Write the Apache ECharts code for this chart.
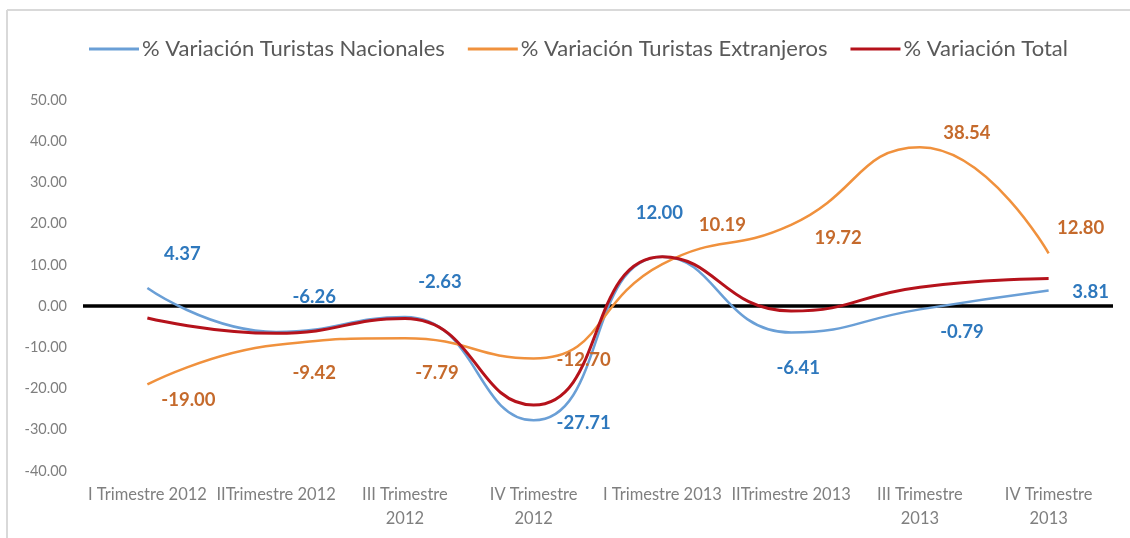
<!DOCTYPE html>
<html lang="es">
<head>
  <meta charset="UTF-8">
  <title>Variación Turistas</title>
  <script src="https://cdn.jsdelivr.net/npm/echarts@6/dist/echarts.min.js"></script>
  <style>
    html, body { margin: 0; padding: 0; background: #fff; }
  </style>
</head>
<body>
  <div id="main" style="width: 1130px;height:538px;"></div>

  <script type="text/javascript">
    // categories and values
    const categories = [
      'I Trimestre 2012', 'IITrimestre 2012', 'III Trimestre\n2012', 'IV Trimestre\n2012',
      'I Trimestre 2013', 'IITrimestre 2013', 'III Trimestre\n2013', 'IV Trimestre\n2013'
    ];
    const nacionales = [4.37, -6.26, -2.63, -27.71, 12.00, -6.41, -0.79, 3.81];
    const extranjeros = [-19.00, -9.42, -7.79, -12.70, 10.19, 19.72, 38.54, 12.80];
    const total = [-2.9, -6.6, -3.0, -24.0, 12.0, -1.2, 4.6, 6.7];
    const yTicks = [-40, -30, -20, -10, 0, 10, 20, 30, 40, 50];

    // where each data label sits relative to its point (layout only)
    const nacLabelOffsets = [[35, -34], [38, -35], [35, -35], [50, 3], [-3, -44], [7, 35], [42, 23], [42, 2]];
    const extLabelOffsets = [[41, 16], [38, 28], [32, 35], [50, 2], [60, -39], [47, 13], [47, -14], [32, -25]];

    function withLabels(values, offsets) {
      return values.map((v, i) => ({ value: v, label: { offset: offsets[i] } }));
    }

    const labelBase = {
      show: true,
      position: 'inside',
      fontFamily: 'Lato',
      fontWeight: 'bold',
      fontSize: 18.5,
      formatter: p => p.value.toFixed(2)
    };

    let myChart = echarts.init(document.getElementById('main'));

    let options = {
      animation: false,
      textStyle: { fontFamily: 'Lato' },
      graphic: [
        { type: 'line', shape: { x1: 7, y1: 10, x2: 1130, y2: 10 }, style: { stroke: '#d9d9d9', lineWidth: 2 } },
        { type: 'line', shape: { x1: 7, y1: 10, x2: 7, y2: 538 }, style: { stroke: '#d9d9d9', lineWidth: 2 } }
      ],
      legend: {
        top: 33,
        left: 84,
        icon: 'rect',
        itemWidth: 50,
        itemHeight: 3,
        itemGap: 23,
        textStyle: { fontSize: 22, color: '#595959', fontFamily: 'Lato', padding: [0, 0, 0, -2] }
      },
      grid: { left: 83, right: 17, top: 100, bottom: 67 },
      xAxis: {
        type: 'category',
        data: categories,
        axisLine: { show: false, onZero: false },
        axisTick: { show: false },
        axisLabel: {
          interval: 0,
          margin: 12,
          fontSize: 16.5,
          lineHeight: 24,
          color: '#7f7f7f'
        }
      },
      yAxis: {
        type: 'value',
        min: yTicks[0],
        max: yTicks[yTicks.length - 1],
        interval: 10,
        splitLine: { show: false },
        axisLabel: {
          margin: 16,
          fontSize: 14.5,
          color: '#7f7f7f',
          formatter: v => v.toFixed(2)
        }
      },
      series: [
        {
          name: '% Variación Turistas Nacionales',
          type: 'line',
          smooth: true,
          symbol: 'circle',
          symbolSize: 0.01,
          color: '#6a9fd6',
          lineStyle: { width: 2.5, color: '#6a9fd6' },
          label: Object.assign({}, labelBase, { color: '#2e78bd' }),
          data: withLabels(nacionales, nacLabelOffsets),
          z: 3
        },
        {
          name: '% Variación Turistas Extranjeros',
          type: 'line',
          smooth: true,
          symbol: 'circle',
          symbolSize: 0.01,
          color: '#f0913d',
          lineStyle: { width: 2.5, color: '#f0913d' },
          label: Object.assign({}, labelBase, { color: '#c56a2c' }),
          data: withLabels(extranjeros, extLabelOffsets),
          z: 4
        },
        {
          name: '% Variación Total',
          type: 'line',
          smooth: true,
          symbol: 'none',
          color: '#b5121b',
          lineStyle: { width: 3, color: '#b5121b' },
          data: total,
          z: 5,
          markLine: {
            silent: true,
            symbol: 'none',
            label: { show: false },
            lineStyle: { color: '#000', width: 3.5, type: 'solid' },
            data: [{ yAxis: 0 }],
            z: 2
          }
        }
      ]
    };

    myChart.setOption(options);
  </script>
</body>
</html>
